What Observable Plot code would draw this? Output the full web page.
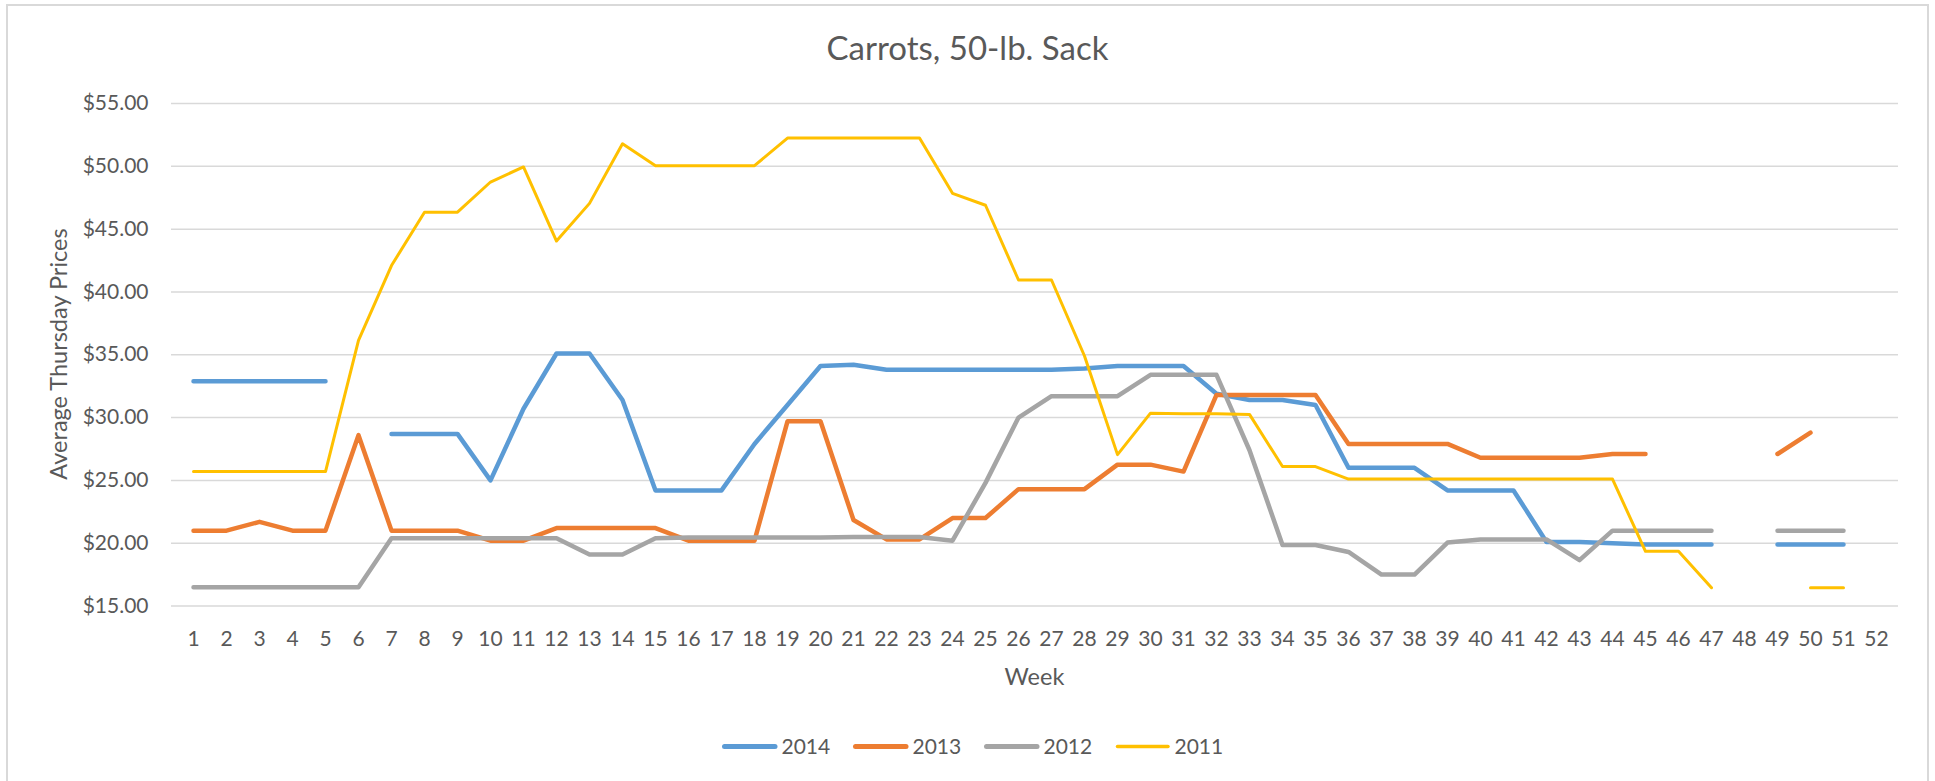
<!DOCTYPE html>
<html><head><meta charset="utf-8">
<script src="https://cdn.jsdelivr.net/npm/d3@7"></script>
<script src="https://cdn.jsdelivr.net/npm/@observablehq/plot@0.6"></script>
<style>
html,body{margin:0;padding:0;width:1935px;height:781px;overflow:hidden;background:#fff;}
#wrap{position:relative;width:1935px;height:781px;}
#chart{position:absolute;left:0;top:0;}
#overlay{position:absolute;left:0;top:0;}
#frame{position:absolute;left:6px;top:4px;width:1923px;height:900px;box-sizing:border-box;border:2px solid #d9d9d9;pointer-events:none;}
</style></head><body>
<div id="wrap"><div id="chart"></div><svg id="overlay" width="1935" height="781"></svg><div id="frame"></div></div>
<script>
const titleText = "Carrots, 50-lb. Sack";
const yTitle = "Average Thursday Prices";
const xTitle = "Week";
const weeks = d3.range(1, 53);
const yTicks = [15, 20, 25, 30, 35, 40, 45, 50, 55];
const years = ["2014", "2013", "2012", "2011"];
const colors = ["#5B9BD5", "#ED7D31", "#A5A5A5", "#FFC000"];

const p2014 = [32.9,32.9,32.9,32.9,32.9,null,28.7,28.7,28.7,25.0,
  30.7,35.1,35.1,31.4,24.2,24.2,24.2,27.9,31.0,34.1,
  34.2,33.8,33.8,33.8,33.8,33.8,33.8,33.9,34.1,34.1,
  34.1,31.9,31.4,31.4,31.0,26.0,26.0,26.0,24.2,24.2,
  24.2,20.1,20.1,20.0,19.9,19.9,19.9,null,19.9,19.9,
  19.9,null];
const p2013 = [21.0,21.0,21.7,21.0,21.0,28.6,21.0,21.0,21.0,20.2,
  20.2,21.2,21.2,21.2,21.2,20.2,20.2,20.2,29.7,29.7,
  21.85,20.3,20.3,22.0,22.0,24.3,24.3,24.3,26.25,26.25,
  25.7,31.8,31.8,31.8,31.8,27.9,27.9,27.9,27.9,26.8,
  26.8,26.8,26.8,27.1,27.1,null,null,null,27.1,28.8,
  null,null];
const p2012 = [16.5,16.5,16.5,16.5,16.5,16.5,20.4,20.4,20.4,20.4,
  20.4,20.4,19.1,19.1,20.4,20.45,20.45,20.45,20.45,20.45,
  20.5,20.5,20.5,20.2,24.8,30.0,31.7,31.7,31.7,33.4,
  33.4,33.4,27.4,19.85,19.85,19.3,17.5,17.5,20.05,20.3,
  20.3,20.3,18.65,21.0,21.0,21.0,21.0,null,21.0,21.0,
  21.0,null];
const p2011 = [25.7,25.7,25.7,25.7,25.7,36.15,42.1,46.35,46.35,48.75,
  49.95,44.05,47.05,51.8,50.05,50.05,50.05,50.05,52.25,52.25,
  52.25,52.25,52.25,47.85,46.9,40.95,40.95,34.9,27.05,30.35,
  30.3,30.3,30.25,26.1,26.1,25.1,25.1,25.1,25.1,25.1,
  25.1,25.1,25.1,25.1,19.35,19.35,16.45,null,null,16.45,
  16.45,null];

const seriesValues = [p2014, p2013, p2012, p2011];
const widths = [4.5, 4.5, 4.5, 3];

const lineMarks = years.map((yr, i) => {
  const rows = weeks.map((w, j) => ({week: w, price: seriesValues[i][j], year: yr}));
  return Plot.line(rows, {
    x: "week", y: "price", stroke: colors[i], strokeWidth: widths[i],
    strokeLinecap: "round", strokeLinejoin: "round"
  });
});

const chart = Plot.plot({
  width: 1935, height: 781,
  marginLeft: 171, marginRight: 37, marginTop: 103, marginBottom: 175.5,
  style: {fontFamily: "Lato", fontSize: "21px", color: "#595959", background: "transparent"},
  x: {type: "point", domain: weeks, padding: 0.5, axis: null},
  y: {domain: [15, 55], axis: null},
  marks: [
    Plot.gridY(yTicks, {stroke: "#d9d9d9", strokeOpacity: 1, strokeWidth: 1.5}),
    Plot.axisY(yTicks, {tickSize: 0, tickPadding: 23, tickFormat: d => "$" + d.toFixed(2), label: null}),
    Plot.axisX(weeks, {tickSize: 0, tickPadding: 25, label: null}),
    ...lineMarks
  ]
});
document.getElementById("chart").appendChild(chart);

// titles and legend
const ov = d3.select("#overlay").style("font-family", "Lato").attr("fill", "#595959");
ov.append("text").attr("x", 967.5).attr("y", 60).attr("text-anchor", "middle")
  .style("font-size", "33px").text(titleText);
ov.append("text").attr("transform", "translate(66.5,354) rotate(-90)").attr("text-anchor", "middle")
  .style("font-size", "23.5px").text(yTitle);
ov.append("text").attr("x", 1034.5).attr("y", 685).attr("text-anchor", "middle")
  .style("font-size", "23.5px").text(xTitle);
const lg = ov.append("g");
years.forEach((yr, i) => {
  const x0 = 724.5 + i * 131;
  lg.append("line").attr("x1", x0).attr("x2", x0 + 50.5).attr("y1", 746.5).attr("y2", 746.5)
    .attr("stroke", colors[i]).attr("stroke-width", widths[i] + 0.5).attr("stroke-linecap", "round");
  lg.append("text").attr("x", x0 + 57).attr("y", 754).style("font-size", "21px").text(yr);
});
</script>
</body></html>
